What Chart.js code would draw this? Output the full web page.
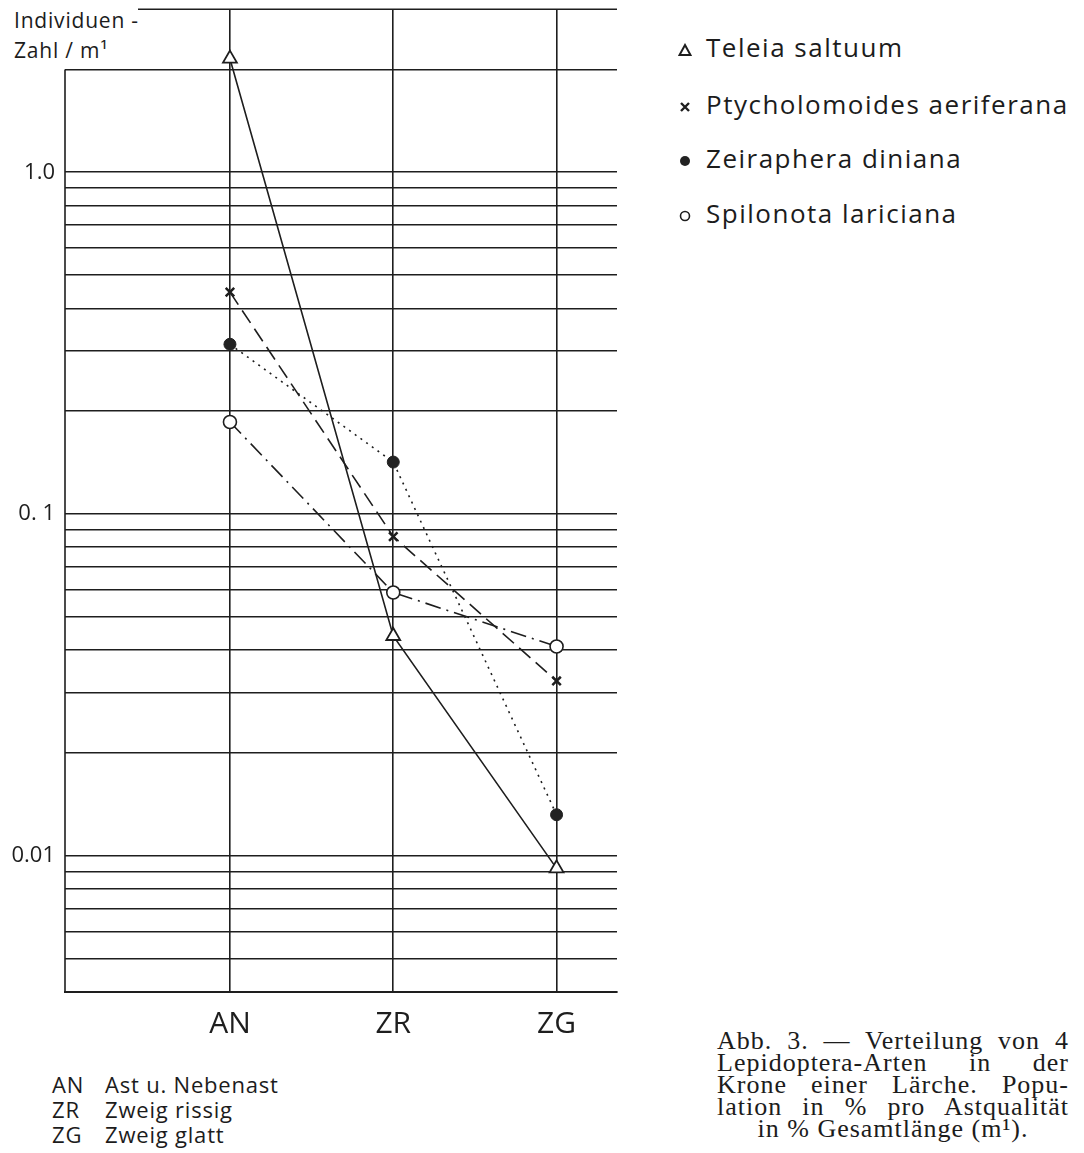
<!DOCTYPE html>
<html>
<head>
<meta charset="utf-8">
<script src="https://cdn.jsdelivr.net/npm/chart.js@4.4.1/dist/chart.umd.min.js"></script>
<style>
  body { margin: 0; background: #fff; width: 1084px; height: 1153px; position: relative; overflow: hidden;
         font-family: "Open Sans", sans-serif; color: #1c1c1c; }
  #wrap { position: absolute; left: 0; top: -14px; width: 640px; height: 1064px; }
  .ytitle { position: absolute; left: 14px; top: 5px; font-size: 21px; line-height: 30px; letter-spacing: 0.8px; }
  .leg { position: absolute; left: 678px; font-size: 26px; line-height: 34px; white-space: nowrap; letter-spacing: 1.5px; }
  .leg svg { display: inline-block; vertical-align: middle; margin-right: 14px; }
  .abbr { position: absolute; left: 52px; font-size: 22px; line-height: 25px; letter-spacing: 0.8px; }
  .abbr span { display: inline-block; width: 53px; }
  .caption { position: absolute; left: 717px; top: 1030px; width: 352px;
             font-family: "Liberation Serif", serif; font-size: 26px; line-height: 22px; letter-spacing: 1px; }
  .caption div { text-align: justify; text-align-last: justify; white-space: nowrap; }
  .caption div.last { text-align: center; text-align-last: center; }
</style>
</head>
<body>
<div class="ytitle">Individuen -<br>Zahl / m¹</div>
<div id="wrap"><canvas id="chart"></canvas></div>
<div id="legend"></div>
<div class="abbr" style="top:1072px"><span>AN</span>Ast u. Nebenast<br><span>ZR</span>Zweig rissig<br><span>ZG</span>Zweig glatt</div>
<div class="caption">
  <div>Abb. 3. — Verteilung von 4</div>
  <div>Lepidoptera-Arten in der</div>
  <div>Krone einer Lärche. Popu-</div>
  <div>lation in % pro Astqualität</div>
  <div class="last">in % Gesamtlänge (m¹).</div>
</div>
<script>
// branch quality classes along the x axis
const categories = ['AN', 'ZR', 'ZG'];
const catPos = [0, 1, 2];

// individuals per metre (log scale)
const teleia = [2.15, 0.044, 0.0092];
const ptycho = [0.446, 0.086, 0.0325];
const zeira  = [0.314, 0.142, 0.0132];
const spilo  = [0.186, 0.059, 0.041];

const seriesNames = ['Teleia saltuum', 'Ptycholomoides aeriferana', 'Zeiraphera diniana', 'Spilonota lariciana'];

// horizontal grid lines of the log paper, and the labelled ones
const gridValues = [0.004, 0.005, 0.006, 0.007, 0.008, 0.009,
                    0.01, 0.02, 0.03, 0.04, 0.05, 0.06, 0.07, 0.08, 0.09,
                    0.1, 0.2, 0.3, 0.4, 0.5, 0.6, 0.7, 0.8, 0.9,
                    1, 2, 3];
const tickLabels = { '1': '1.0', '0.1': '0. 1', '0.01': '0.01' };

const ink = '#1e1e1e';

const toPoints = vals => catPos.map((x, i) => ({ x, y: vals[i] }));

// left axis starts at the 2.0 line, top line starts a bit right of the axis
const framePlugin = {
    id: 'frame',
    beforeDatasetsDraw(chart) {
        const { ctx, chartArea, scales: { y } } = chart;
        ctx.save();
        ctx.strokeStyle = ink;
        ctx.lineWidth = 1.6;
        ctx.beginPath();
        ctx.moveTo(chartArea.left, y.getPixelForValue(2));
        ctx.lineTo(chartArea.left, chartArea.bottom);
        ctx.moveTo(chartArea.left + 73, chartArea.top);
        ctx.lineTo(chartArea.right, chartArea.top);
        ctx.stroke();
        ctx.restore();
    }
};

new Chart(document.getElementById('chart'), {
    type: 'line',
    data: {
        datasets: [
            {
                label: seriesNames[0],
                data: toPoints(teleia),
                borderColor: ink, borderWidth: 1.6,
                pointStyle: 'triangle', pointRadius: 8,
                pointBackgroundColor: '#fff', pointBorderColor: ink, pointBorderWidth: 1.8
            },
            {
                label: seriesNames[1],
                data: toPoints(ptycho),
                borderColor: ink, borderWidth: 1.6, borderDash: [15, 7],
                pointStyle: 'crossRot', pointRadius: 6,
                pointBorderColor: ink, pointBorderWidth: 2.5
            },
            {
                label: seriesNames[2],
                data: toPoints(zeira),
                borderColor: ink, borderWidth: 1.6, borderDash: [2, 5],
                pointStyle: 'circle', pointRadius: 6,
                pointBackgroundColor: '#222', pointBorderColor: '#222', pointBorderWidth: 1
            },
            {
                label: seriesNames[3],
                data: toPoints(spilo),
                borderColor: ink, borderWidth: 1.6, borderDash: [16, 6, 2, 6],
                pointStyle: 'circle', pointRadius: 6.5,
                pointBackgroundColor: '#fff', pointBorderColor: ink, pointBorderWidth: 1.6
            }
        ]
    },
    options: {
        responsive: true,
        maintainAspectRatio: false,
        animation: false,
        layout: { padding: { top: 8, right: 23, left: 0, bottom: 0 } },
        plugins: { legend: { display: false }, tooltip: { enabled: false } },
        scales: {
            x: {
                type: 'linear',
                min: -1.01,
                max: 2.37,
                afterBuildTicks: s => { s.ticks = catPos.map(v => ({ value: v })); },
                afterFit: s => { s.height = 58; },
                ticks: {
                    autoSkip: false,
                    padding: 14,
                    color: ink,
                    font: { family: 'Open Sans', size: 30 },
                    callback: v => categories[v]
                },
                grid: { color: ink, lineWidth: 1.6, drawTicks: false },
                border: { display: true, color: ink, width: 2 }
            },
            y: {
                type: 'logarithmic',
                min: 0.004,
                max: 3,
                afterBuildTicks: s => { s.ticks = gridValues.map(v => ({ value: v })); },
                afterFit: s => { s.width = 65; },
                ticks: {
                    autoSkip: false,
                    padding: 10,
                    color: ink,
                    font: { family: 'Open Sans', size: 22 },
                    callback: v => tickLabels[String(v)] || ''
                },
                grid: {
                    color: c => (c.tick && c.tick.value === 3) ? 'rgba(0,0,0,0)' : ink,
                    lineWidth: 1.6,
                    drawTicks: false
                },
                border: { display: false }
            }
        }
    },
    plugins: [framePlugin]
});

// legend to the right of the plot, with small drawn symbols
const legendTops = [30, 87, 141, 196];
const legendIcons = [
    '<polygon points="7,2 12.5,12 1.5,12" fill="#fff" stroke="#1e1e1e" stroke-width="2"/>',
    '<path d="M3,3 L11,11 M11,3 L3,11" stroke="#1e1e1e" stroke-width="2.4"/>',
    '<circle cx="7" cy="7" r="5" fill="#222"/>',
    '<circle cx="7" cy="7" r="4.5" fill="#fff" stroke="#1e1e1e" stroke-width="1.6"/>'
];
document.getElementById('legend').innerHTML = seriesNames.map((name, i) =>
    `<div class="leg" style="top:${legendTops[i]}px"><svg width="14" height="14" viewBox="0 0 14 14">${legendIcons[i]}</svg>${name}</div>`
).join('');
</script>
</body>
</html>
